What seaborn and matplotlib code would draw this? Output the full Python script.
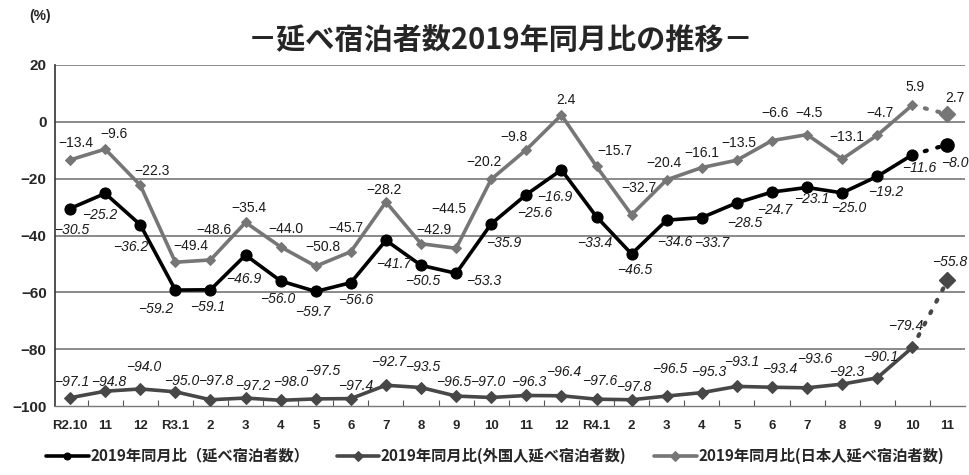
import numpy as np
import pandas as pd
import matplotlib
matplotlib.use("Agg")
import matplotlib.pyplot as plt
from matplotlib.ticker import FixedLocator
import seaborn as sns

# Months (Reiwa era) on the x axis
months = ["R2.10", "11", "12", "R3.1", "2", "3", "4", "5", "6", "7", "8", "9",
          "10", "11", "12", "R4.1", "2", "3", "4", "5", "6", "7", "8", "9", "10", "11"]

# Change versus the same month of 2019 (%)
total = [-30.5, -25.2, -36.2, -59.2, -59.1, -46.9, -56.0, -59.7, -56.6, -41.7, -50.5, -53.3,
         -35.9, -25.6, -16.9, -33.4, -46.5, -34.6, -33.7, -28.5, -24.7, -23.1, -25.0, -19.2,
         -11.6, -8.0]
foreign = [-97.1, -94.8, -94.0, -95.0, -97.8, -97.2, -98.0, -97.5, -97.4, -92.7, -93.5, -96.5,
           -97.0, -96.3, -96.4, -97.6, -97.8, -96.5, -95.3, -93.1, -93.4, -93.6, -92.3, -90.1,
           -79.4, -55.8]
japanese = [-13.4, -9.6, -22.3, -49.4, -48.6, -35.4, -44.0, -50.8, -45.7, -28.2, -42.9, -44.5,
            -20.2, -9.8, 2.4, -15.7, -32.7, -20.4, -16.1, -13.5, -6.6, -4.5, -13.1, -4.7,
            5.9, 2.7]

series_names = ["2019年同月比（延べ宿泊者数）",
                "2019年同月比(外国人延べ宿泊者数)",
                "2019年同月比(日本人延べ宿泊者数)"]

# Label placement (pixels, x right / y up) relative to each point
off_total = [(2, -21), (-5, -22), (-10, -22), (-20, -19), (-3, -17), (-2, -24), (-3, -18),
             (-3, -21), (5, -17), (8, -24), (2, -16), (28, -8), (13, -19), (8, -18), (-7, -27),
             (-2, -26), (3, -16), (8, -22), (10, -25), (8, -20), (3, -18), (5, -12), (7, -15),
             (8, -16), (7, -13), (7, -18)]
off_foreign = [(2, 16), (4, 9), (3, 22), (6, 11), (5, 19), (7, 12), (10, 18), (7, 28), (5, 13),
               (3, 23), (2, 21), (-2, 14), (-3, 15), (2, 13), (2, 24), (3, 18), (2, 13), (3, 27),
               (7, 21), (5, 24), (8, 18), (8, 29), (5, 12), (3, 21), (-7, 21), (2, 18)]
off_japanese = [(6, 17), (9, 15), (12, 14), (15, 16), (3, 30), (3, 14), (5, 18), (7, 19),
                (-5, 24), (-2, 12), (13, 14), (-7, 39), (-7, 17), (-12, 13), (5, 15), (18, 15),
                (7, 27), (-3, 17), (0, 15), (2, 17), (3, 28), (2, 22), (5, 22), (3, 22), (3, 18),
                (7, 16)]

sns.set_theme(style="white")
plt.rcParams["font.family"] = ["Liberation Sans", "Noto Sans CJK JP"]
plt.rcParams["axes.unicode_minus"] = True

fig = plt.figure(figsize=(9.7, 4.75), dpi=100)
ax = fig.add_axes([55 / 970, 1 - 406 / 475, 910 / 970, (406 - 65) / 475])

x = np.arange(len(months))
df = pd.DataFrame({"x": x, "total": total, "foreign": foreign, "japanese": japanese})
solid = df.iloc[:-1]
tail = df.iloc[-2:]

c_total = "#000000"
c_foreign = "#474747"
c_japanese = "#767676"

styles = [
    ("japanese", c_japanese, "D", 5.0, 8.0, off_japanese, "normal", series_names[2]),
    ("foreign", c_foreign, "D", 6.0, 8.5, off_foreign, "italic", series_names[1]),
    ("total", c_total, "o", 8.0, 9.5, off_total, "italic", series_names[0]),
]

for col, color, mk, ms, ms_last, offs, fstyle, name in styles:
    sns.lineplot(data=solid, x="x", y=col, ax=ax, color=color, lw=2.6, marker=mk,
                 markersize=ms, markeredgecolor=color, markerfacecolor=color,
                 label=name, legend=False, zorder=3)
    sns.lineplot(data=tail, x="x", y=col, ax=ax, color=color, lw=3.0,
                 linestyle=(0, (0.5, 2.6)), dash_capstyle="round", legend=False, zorder=3)
    last = df.iloc[[-1]]
    ax.plot(last["x"], last[col], marker=mk, markersize=ms_last, color=color,
            linestyle="none", zorder=4)
    for xi, v, (dx, dy) in zip(x, df[col], offs):
        txt = f"{v:.1f}".replace("-", "\u2212")
        ax.annotate(txt, (xi, v), xytext=(dx, dy), textcoords="offset pixels",
                    ha="center", va="center", fontsize=10, style=fstyle,
                    color="#1a1a1a", zorder=5)

# Axes, grid and ticks
ax.set_xlim(-0.43, len(months) - 0.5)
ax.set_ylim(-100, 20)
ax.set_yticks(np.arange(-100, 21, 20))
ax.set_yticklabels([str(t).replace("-", "\u2212") for t in range(-100, 21, 20)],
                   fontsize=11, fontweight="bold")
ax.set_xticks(x)
ax.set_xticklabels(months, fontsize=9.5, fontweight="bold")
ax.xaxis.set_minor_locator(FixedLocator(np.arange(0.5, len(months) - 0.5, 1)))
ax.tick_params(axis="x", which="major", length=0, pad=10)
ax.tick_params(axis="x", which="minor", direction="in", length=4, width=0.8,
               color="#555555", bottom=True)
ax.tick_params(axis="y", length=0, pad=6)
for yv in range(-80, 21, 20):
    ax.axhline(yv, color="#8a8a8a", lw=1.4, zorder=1)
ax.set_xlabel("")
ax.set_ylabel("")
for side in ["top", "right"]:
    ax.spines[side].set_visible(False)
ax.spines["left"].set_color("#333333")
ax.spines["left"].set_linewidth(1.2)
ax.spines["bottom"].set_color("#777777")
ax.spines["bottom"].set_linewidth(1.0)

# Titles
fig.text(501 / 970, 1 - 40 / 475, "－延べ宿泊者数2019年同月比の推移－",
         ha="center", va="center", fontsize=21, fontweight="bold",
         family=["Noto Sans CJK JP"])
fig.text(40 / 970, 1 - 16 / 475, "(%)", ha="center", va="center",
         fontsize=10, fontweight="bold")

# Legend
handles, labels = ax.get_legend_handles_labels()
order = [labels.index(n) for n in series_names]
leg = fig.legend([handles[i] for i in order], [labels[i] for i in order],
                 loc="center", bbox_to_anchor=(495 / 970, 1 - 456 / 475), ncol=3,
                 frameon=False, handlelength=2.8, handletextpad=0.1,
                 columnspacing=1.8, prop={"family": ["Noto Sans CJK JP"], "size": 11,
                                          "weight": "bold"})
for h in leg.legend_handles:
    h.set_markersize(5)

fig.savefig("out.png", dpi=100)
